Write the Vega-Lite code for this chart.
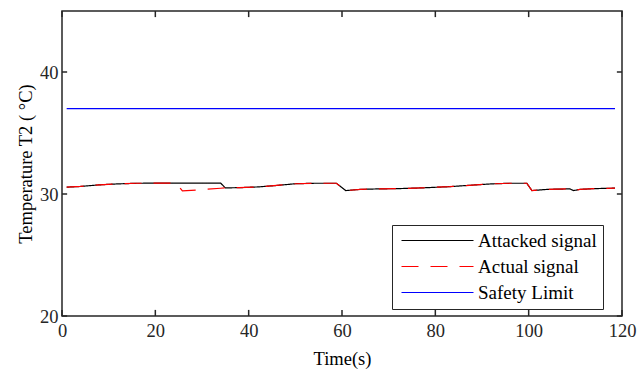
{
  "$schema": "https://vega.github.io/schema/vega-lite/v6.json",
  "width": 560,
  "height": 305,
  "autosize": "none",
  "padding": {"left": 62, "top": 11, "right": 16, "bottom": 60},
  "background": "white",
  "config": {
    "font": "Liberation Serif",
    "view": {"stroke": "#262626", "strokeWidth": 1.5},
    "axis": {
      "domain": false,
      "grid": false,
      "ticks": false,
      "labelFlush": false,
      "labelFont": "Liberation Serif",
      "labelFontSize": 18.5,
      "labelColor": "#262626",
      "titleFont": "Liberation Serif",
      "titleFontSize": 18.5,
      "titleFontWeight": "normal",
      "titleColor": "#000000",
      "titleBaseline": "middle"
    }
  },
  "datasets": {
    "series": [
      {"t": 1, "v": 30.56, "s": "Attacked signal"},
      {"t": 4, "v": 30.62, "s": "Attacked signal"},
      {"t": 8, "v": 30.75, "s": "Attacked signal"},
      {"t": 12, "v": 30.83, "s": "Attacked signal"},
      {"t": 16, "v": 30.88, "s": "Attacked signal"},
      {"t": 20, "v": 30.89, "s": "Attacked signal"},
      {"t": 24.5, "v": 30.89, "s": "Attacked signal"},
      {"t": 30, "v": 30.89, "s": "Attacked signal"},
      {"t": 34, "v": 30.89, "s": "Attacked signal"},
      {"t": 35, "v": 30.5, "s": "Attacked signal"},
      {"t": 38, "v": 30.52, "s": "Attacked signal"},
      {"t": 42, "v": 30.58, "s": "Attacked signal"},
      {"t": 46, "v": 30.7, "s": "Attacked signal"},
      {"t": 50, "v": 30.84, "s": "Attacked signal"},
      {"t": 54, "v": 30.88, "s": "Attacked signal"},
      {"t": 58.8, "v": 30.88, "s": "Attacked signal"},
      {"t": 60.8, "v": 30.28, "s": "Attacked signal"},
      {"t": 64, "v": 30.38, "s": "Attacked signal"},
      {"t": 68, "v": 30.42, "s": "Attacked signal"},
      {"t": 72, "v": 30.44, "s": "Attacked signal"},
      {"t": 77, "v": 30.5, "s": "Attacked signal"},
      {"t": 83, "v": 30.6, "s": "Attacked signal"},
      {"t": 88, "v": 30.73, "s": "Attacked signal"},
      {"t": 92, "v": 30.83, "s": "Attacked signal"},
      {"t": 96, "v": 30.88, "s": "Attacked signal"},
      {"t": 99.6, "v": 30.88, "s": "Attacked signal"},
      {"t": 100.7, "v": 30.28, "s": "Attacked signal"},
      {"t": 104, "v": 30.38, "s": "Attacked signal"},
      {"t": 108.8, "v": 30.42, "s": "Attacked signal"},
      {"t": 109.6, "v": 30.28, "s": "Attacked signal"},
      {"t": 111, "v": 30.38, "s": "Attacked signal"},
      {"t": 114, "v": 30.44, "s": "Attacked signal"},
      {"t": 118.5, "v": 30.48, "s": "Attacked signal"},
      {"t": 1, "v": 30.56, "s": "Actual signal"},
      {"t": 4, "v": 30.62, "s": "Actual signal"},
      {"t": 8, "v": 30.75, "s": "Actual signal"},
      {"t": 12, "v": 30.83, "s": "Actual signal"},
      {"t": 16, "v": 30.88, "s": "Actual signal"},
      {"t": 20, "v": 30.89, "s": "Actual signal"},
      {"t": 24.5, "v": 30.89, "s": "Actual signal"},
      {"t": 25.8, "v": 30.25, "s": "Actual signal"},
      {"t": 30, "v": 30.36, "s": "Actual signal"},
      {"t": 34, "v": 30.47, "s": "Actual signal"},
      {"t": 35, "v": 30.5, "s": "Actual signal"},
      {"t": 38, "v": 30.52, "s": "Actual signal"},
      {"t": 42, "v": 30.58, "s": "Actual signal"},
      {"t": 46, "v": 30.7, "s": "Actual signal"},
      {"t": 50, "v": 30.84, "s": "Actual signal"},
      {"t": 54, "v": 30.88, "s": "Actual signal"},
      {"t": 58.8, "v": 30.88, "s": "Actual signal"},
      {"t": 60.8, "v": 30.28, "s": "Actual signal"},
      {"t": 64, "v": 30.38, "s": "Actual signal"},
      {"t": 68, "v": 30.42, "s": "Actual signal"},
      {"t": 72, "v": 30.44, "s": "Actual signal"},
      {"t": 77, "v": 30.5, "s": "Actual signal"},
      {"t": 83, "v": 30.6, "s": "Actual signal"},
      {"t": 88, "v": 30.73, "s": "Actual signal"},
      {"t": 92, "v": 30.83, "s": "Actual signal"},
      {"t": 96, "v": 30.88, "s": "Actual signal"},
      {"t": 99.6, "v": 30.88, "s": "Actual signal"},
      {"t": 100.7, "v": 30.28, "s": "Actual signal"},
      {"t": 104, "v": 30.38, "s": "Actual signal"},
      {"t": 108.8, "v": 30.42, "s": "Actual signal"},
      {"t": 109.6, "v": 30.28, "s": "Actual signal"},
      {"t": 111, "v": 30.38, "s": "Actual signal"},
      {"t": 114, "v": 30.44, "s": "Actual signal"},
      {"t": 118.5, "v": 30.48, "s": "Actual signal"},
      {"t": 1, "v": 37, "s": "Safety Limit"},
      {"t": 118.5, "v": 37, "s": "Safety Limit"}
    ],
    "xticks": [{"t": 0}, {"t": 20}, {"t": 40}, {"t": 60}, {"t": 80}, {"t": 100}, {"t": 120}],
    "yticks": [{"v": 20}, {"v": 30}, {"v": 40}]
  },
  "layer": [
    {
      "data": {"name": "series"},
      "mark": {"type": "line", "strokeWidth": 1.2, "clip": true},
      "encoding": {
        "x": {
          "field": "t", "type": "quantitative",
          "scale": {"domain": [0, 120], "nice": false},
          "axis": {"values": [0, 20, 40, 60, 80, 100, 120], "title": "Time(s)", "labelPadding": 5, "titleY": 42}
        },
        "y": {
          "field": "v", "type": "quantitative",
          "scale": {"domain": [20, 45], "nice": false, "zero": false},
          "axis": {"values": [20, 30, 40], "title": "Temperature T2 ( °C)", "labelPadding": 4, "titleX": -37}
        },
        "color": {
          "field": "s", "type": "nominal",
          "scale": {"domain": ["Attacked signal", "Actual signal", "Safety Limit"], "range": ["#000000", "#ff0000", "#0000ff"]},
          "legend": {
            "title": null,
            "orient": "none",
            "legendX": 330,
            "legendY": 214,
            "fillColor": "white",
            "strokeColor": "#262626",
            "padding": 6,
            "symbolType": "M-1,0H11",
            "symbolSize": 144,
            "symbolStrokeWidth": 1.2,
            "labelFont": "Liberation Serif",
            "labelFontSize": 19,
            "labelColor": "#000000",
            "labelOffset": 61,
            "rowPadding": 6,
            "labelLimit": 300
          }
        },
        "strokeDash": {
          "field": "s", "type": "nominal",
          "scale": {"domain": ["Attacked signal", "Actual signal", "Safety Limit"], "range": [[1, 0], [17, 12], [1, 0]]}
        },
        "order": {"field": "t", "type": "quantitative"}
      }
    },
    {
      "data": {"name": "xticks"},
      "mark": {"type": "rule", "color": "#262626", "strokeWidth": 1.5},
      "encoding": {
        "x": {"field": "t", "type": "quantitative"},
        "y": {"datum": 20},
        "y2": {"datum": 20.5}
      }
    },
    {
      "data": {"name": "xticks"},
      "mark": {"type": "rule", "color": "#262626", "strokeWidth": 1.5},
      "encoding": {
        "x": {"field": "t", "type": "quantitative"},
        "y": {"datum": 44.5},
        "y2": {"datum": 45}
      }
    },
    {
      "data": {"name": "yticks"},
      "mark": {"type": "rule", "color": "#262626", "strokeWidth": 1.5},
      "encoding": {
        "y": {"field": "v", "type": "quantitative"},
        "x": {"datum": 0},
        "x2": {"datum": 1.1}
      }
    },
    {
      "data": {"name": "yticks"},
      "mark": {"type": "rule", "color": "#262626", "strokeWidth": 1.5},
      "encoding": {
        "y": {"field": "v", "type": "quantitative"},
        "x": {"datum": 118.9},
        "x2": {"datum": 120}
      }
    }
  ]
}
